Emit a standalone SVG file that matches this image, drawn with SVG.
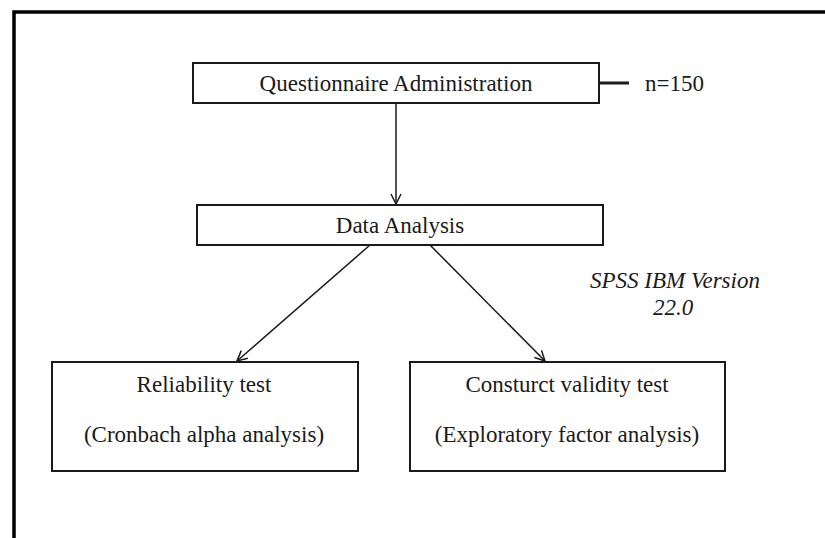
<svg xmlns="http://www.w3.org/2000/svg" width="825" height="538" viewBox="0 0 825 538">
  <defs>
    <style>
      .box { fill: #ffffff; stroke: #1a1a1a; stroke-width: 2; }
      .t { font-family: "Liberation Serif", "Times New Roman", serif; font-size: 23px; fill: #1a1a1a; text-anchor: middle; }
      .it { font-style: italic; }
      .conn { stroke: #1a1a1a; stroke-width: 1.5; fill: none; }
    </style>
    <marker id="arrow" viewBox="0 0 12 12" refX="11" refY="6" markerWidth="12" markerHeight="12" markerUnits="userSpaceOnUse" orient="auto">
      <path d="M1,1 L11,6 L1,11" fill="none" stroke="#1a1a1a" stroke-width="1.5"/>
    </marker>
  </defs>
  <rect x="0" y="0" width="825" height="538" fill="#ffffff"/>
  <path d="M14,538 V12 H825" fill="none" stroke="#000" stroke-width="3.5"/>

  <g id="connectors">
    <line class="conn" x1="396" y1="103" x2="396" y2="204" marker-end="url(#arrow)"/>
    <line class="conn" x1="370" y1="245" x2="237" y2="361" marker-end="url(#arrow)"/>
    <line class="conn" x1="430" y1="245" x2="545" y2="361" marker-end="url(#arrow)"/>
    <line x1="599" y1="83" x2="629" y2="83" stroke="#1a1a1a" stroke-width="3"/>
  </g>

  <g id="questionnaire">
    <rect class="box" x="193" y="63" width="406" height="40"/>
    <text class="t" x="396" y="91">Questionnaire Administration</text>
  </g>
  <g id="n150">
    <text class="t" x="645" y="91" style="text-anchor:start">n=150</text>
  </g>
  <g id="data-analysis">
    <rect class="box" x="197" y="205" width="406" height="40"/>
    <text class="t" x="400" y="233">Data Analysis</text>
  </g>
  <g id="spss">
    <text class="t it" x="675" y="288">SPSS IBM Version</text>
    <text class="t it" x="673" y="315">22.0</text>
  </g>
  <g id="reliability">
    <rect class="box" x="52" y="362" width="306" height="109"/>
    <text class="t" x="204" y="392">Reliability test</text>
    <text class="t" x="204" y="442">(Cronbach alpha analysis)</text>
  </g>
  <g id="validity">
    <rect class="box" x="410" y="362" width="315" height="109"/>
    <text class="t" x="567" y="392">Consturct validity test</text>
    <text class="t" x="567" y="442">(Exploratory factor analysis)</text>
  </g>
</svg>
